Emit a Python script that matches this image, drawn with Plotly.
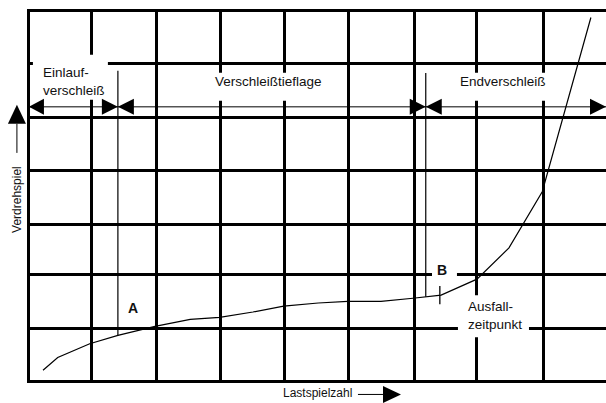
import numpy as np
import plotly.graph_objects as go

# ---------------- data (grid units) ----------------
# x: Lastspielzahl (grid columns), y: Verdrehspiel (grid rows)
curve_x = [0.22, 0.45, 0.95, 1.39, 1.97, 2.52, 2.98, 3.50, 3.98, 4.52, 4.98, 5.50, 6.00, 6.44, 7.00, 7.50, 8.02, 8.78]
curve_y = [0.21, 0.45, 0.71, 0.87, 1.04, 1.17, 1.21, 1.31, 1.42, 1.48, 1.51, 1.51, 1.57, 1.63, 1.93, 2.52, 3.58, 6.87]

phase_names = ["Einlauf-<br>verschleiß", "Verschleißtieflage", "Endverschleiß"]
phase_bounds = [0.0, 1.39, 6.2, 9.016]      # start, A, B, end
marker_top = [5.865, 5.821]                  # top of the A / B marker lines
point_labels = ["A", "B"]
failure_x = 6.42
failure_label = "Ausfall-<br>zeitpunkt"
arrow_y = 5.183                               # level of the phase arrows

grid_x = [0, 0.984, 1.995, 2.99, 3.99, 5.0, 6.03, 7.0, 8.036]
grid_y = [0, 0.997, 2.019, 2.97, 3.973, 4.99, 6.01, 7.0]

x_title = "Lastspielzahl"
y_title = "Verdrehspiel"

# ---------------- geometry ----------------
W, H = 606, 403
XU, YU = 64.0, 370.0 / 7.0
PAD = 0.03
x_range = [-PAD, phase_bounds[-1]]
y_range = [-PAD, grid_y[-1] + PAD]
ML = 29 - PAD * XU
MT = 11 - PAD * YU
PW = W - ML
PH = (y_range[1] - y_range[0]) * YU
MB = H - MT - PH

def px_paper(px):
    return (px - ML) / PW

def py_paper(py):
    return (MT + PH - py) / PH

FONT = "Liberation Sans, Arial, Helvetica, sans-serif"
TXT = "#111111"

fig = go.Figure()

# wear curve
fig.add_trace(go.Scatter(x=curve_x, y=curve_y, mode="lines",
                         line=dict(color="black", width=1.2), hoverinfo="skip"))

# phase arrow line
fig.add_trace(go.Scatter(x=[phase_bounds[0], phase_bounds[-1]], y=[arrow_y, arrow_y],
                         mode="lines", line=dict(color="black", width=1), hoverinfo="skip"))

# A / B marker lines down to the curve
for bx, top in zip(phase_bounds[1:3], marker_top):
    yc = float(np.interp(bx, curve_x, curve_y))
    fig.add_trace(go.Scatter(x=[bx, bx], y=[top, yc], mode="lines",
                             line=dict(color="black", width=1.2), hoverinfo="skip"))

# failure tick
fig.add_trace(go.Scatter(x=[failure_x], y=[float(np.interp(failure_x, curve_x, curve_y))],
                         mode="markers",
                         marker=dict(symbol="line-ns-open", size=13, color="black",
                                     line=dict(color="black", width=1.3)),
                         hoverinfo="skip"))

shapes = []

def white_box(x0, x1, y0, y1):
    shapes.append(dict(type="rect", xref="x", yref="y", x0=x0, x1=x1, y0=y0, y1=y1,
                       fillcolor="white", line=dict(width=0), layer="above"))

# white label boxes (interrupt grid)
white_box(0.0625, 1.234, 5.316, 6.168)   # Einlauf
white_box(2.797, 4.734, 5.297, 5.826)    # Verschleißtieflage
white_box(6.578, 8.297, 5.297, 5.826)    # Endverschleiß
white_box(6.703, 7.8125, 0.832, 1.627)   # Ausfall
white_box(6.297, 6.6875, 1.835, 2.251)   # B

def head(xa, ya, path, xref="x", yref="y"):
    shapes.append(dict(type="path", xref=xref, yref=yref,
                       xsizemode="pixel", ysizemode="pixel",
                       xanchor=xa, yanchor=ya, path=path,
                       fillcolor="black", line=dict(width=0), layer="above"))

LEFT = "M0,0 L15,8 L15,-8 Z"
RIGHT = "M0,0 L-16,8 L-16,-8 Z"
head(phase_bounds[0], arrow_y, LEFT)
for bx in phase_bounds[1:3]:
    head(bx, arrow_y, RIGHT)
    head(bx, arrow_y, "M0,0 L16,8 L16,-8 Z")
head(phase_bounds[-1], arrow_y, RIGHT)

# y axis title arrow (up)
ax_x = px_paper(17)
shapes.append(dict(type="line", xref="paper", yref="paper", x0=ax_x, x1=ax_x,
                   y0=py_paper(153), y1=py_paper(124), line=dict(color="black", width=1)))
head(ax_x, py_paper(124), "M-9,0 L9,0 L0,19 Z", "paper", "paper")

# x axis title arrow (right)
ay = py_paper(394)
shapes.append(dict(type="line", xref="paper", yref="paper", x0=px_paper(358), x1=px_paper(383),
                   y0=ay, y1=ay, line=dict(color="black", width=1)))
head(px_paper(383), ay, "M0,-8.5 L0,8.5 L18,0 Z", "paper", "paper")

annotations = [
    dict(x=0.198, y=5.666, text=phase_names[0], xanchor="left", yanchor="middle", align="left",
         font=dict(family=FONT, size=13.5, color=TXT)),
    dict(x=3.75, y=5.659, text=phase_names[1], xanchor="center", yanchor="middle",
         font=dict(family=FONT, size=13.5, color=TXT)),
    dict(x=7.414, y=5.659, text=phase_names[2], xanchor="center", yanchor="middle",
         font=dict(family=FONT, size=13.5, color=TXT)),
    dict(x=6.844, y=1.239, text=failure_label, xanchor="left", yanchor="middle", align="left",
         font=dict(family=FONT, size=13.5, color=TXT)),
    dict(x=1.625, y=1.381, text="<b>%s</b>" % point_labels[0], xanchor="center", yanchor="middle",
         font=dict(family=FONT, size=14, color=TXT)),
    dict(x=6.461, y=2.1, text="<b>%s</b>" % point_labels[1], xanchor="center", yanchor="middle",
         font=dict(family=FONT, size=14, color=TXT)),
    dict(xref="paper", yref="paper", x=px_paper(17), y=py_paper(199), text=y_title, textangle=-90,
         xanchor="center", yanchor="middle", font=dict(family=FONT, size=12, color=TXT)),
    dict(xref="paper", yref="paper", x=px_paper(318), y=py_paper(393), text=x_title,
         xanchor="center", yanchor="middle", font=dict(family=FONT, size=12, color=TXT)),
]
for a in annotations:
    a.setdefault("xref", "x")
    a.setdefault("yref", "y")
    a["showarrow"] = False
    a["borderpad"] = 0

fig.update_layout(
    width=W, height=H,
    margin=dict(l=ML, r=0, t=MT, b=MB, pad=0),
    paper_bgcolor="white", plot_bgcolor="white",
    showlegend=False,
    shapes=shapes,
    annotations=annotations,
    xaxis=dict(range=x_range, tickmode="array", tickvals=grid_x, showticklabels=False,
               ticks="", showgrid=True, gridcolor="black", gridwidth=3,
               zeroline=False, showline=False, fixedrange=True),
    yaxis=dict(range=y_range, tickmode="array", tickvals=grid_y, showticklabels=False,
               ticks="", showgrid=True, gridcolor="black", gridwidth=3,
               zeroline=False, showline=False, fixedrange=True),
)

fig.write_html("out.html", config={"displayModeBar": False},
               post_script="document.body.style.margin='0';document.body.style.overflow='hidden';")
